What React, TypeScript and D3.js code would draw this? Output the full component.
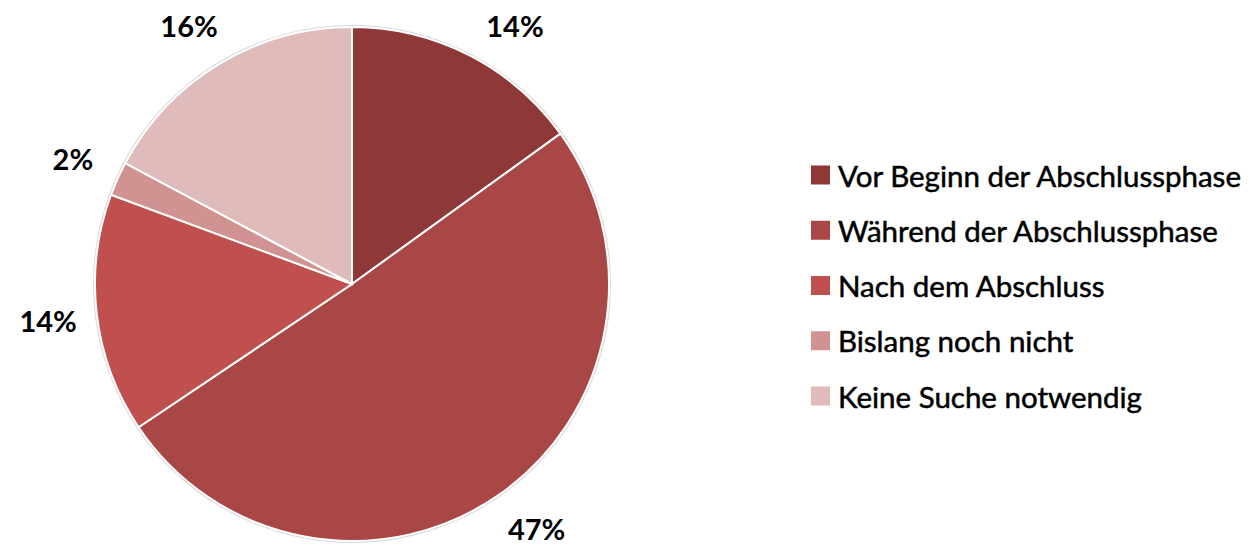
import React from 'react';
import * as d3 from 'd3';

const categories = [
  'Vor Beginn der Abschlussphase',
  'Während der Abschlussphase',
  'Nach dem Abschluss',
  'Bislang noch nicht',
  'Keine Suche notwendig',
];
const values = [14, 47, 14, 2, 16];
const labels = ['14%', '47%', '14%', '2%', '16%'];
const colors = ['#8E3837', '#A84745', '#C0504D', '#D09391', '#E0BBBB'];

const width = 1249;
const height = 545;

export default function App() {
  const cx = 352;
  const cy = 284;
  const r = 257;
  const labelR = 306;

  const pie = d3.pie<number>().sort(null).value((d) => d);
  const arcs = pie(values);
  const arc = d3.arc<d3.PieArcDatum<number>>().innerRadius(0).outerRadius(r);

  const color = d3.scaleOrdinal<string, string>().domain(categories).range(colors);
  const legendY = d3.scalePoint<string>().domain(categories).range([175, 396]);

  // labels sit on a circle around the pie, slid along it to stay inside the chart
  const minY = 25;
  const maxY = 528;
  const labelPos = arcs.map((a) => {
    let ang = (a.startAngle + a.endAngle) / 2;
    let y = cy - labelR * Math.cos(ang);
    const right = Math.sin(ang) >= 0;
    if (y < minY) {
      const base = Math.acos((cy - minY) / labelR);
      ang = right ? base : 2 * Math.PI - base;
      y = minY;
    } else if (y > maxY) {
      const base = Math.acos((maxY - cy) / labelR);
      ang = right ? Math.PI - base : Math.PI + base;
      y = maxY;
    }
    return { x: cx + labelR * Math.sin(ang), y };
  });

  return (
    <svg
      width={width}
      height={height}
      style={{ position: 'absolute', left: 0, top: 0, background: '#fff' }}
      fontFamily="Lato, 'Open Sans', sans-serif"
    >
      <circle cx={cx} cy={cy} r={r + 1} fill="none" stroke="#d9d9d9" strokeWidth={2} />
      <g transform={`translate(${cx},${cy})`}>
        {arcs.map((a, i) => (
          <path
            key={i}
            d={arc(a) || ''}
            fill={color(categories[i])}
            stroke="#fff"
            strokeWidth={2}
          />
        ))}
      </g>
      {labelPos.map((p, i) => (
        <text
          key={i}
          x={p.x}
          y={p.y}
          textAnchor="middle"
          dominantBaseline="central"
          fontSize={29}
          fontWeight="bold"
          fill="#000"
        >
          {labels[i]}
        </text>
      ))}
      {categories.map((c, i) => (
        <g key={c} transform={`translate(811,${legendY(c)})`}>
          <rect x={0} y={-9.5} width={19} height={19} fill={color(c)} />
          <text
            x={27}
            y={0}
            dominantBaseline="central"
            fontSize={29.5}
            fill="#000"
            stroke="#000"
            strokeWidth={0.5}
          >
            {c}
          </text>
        </g>
      ))}
    </svg>
  );
}
